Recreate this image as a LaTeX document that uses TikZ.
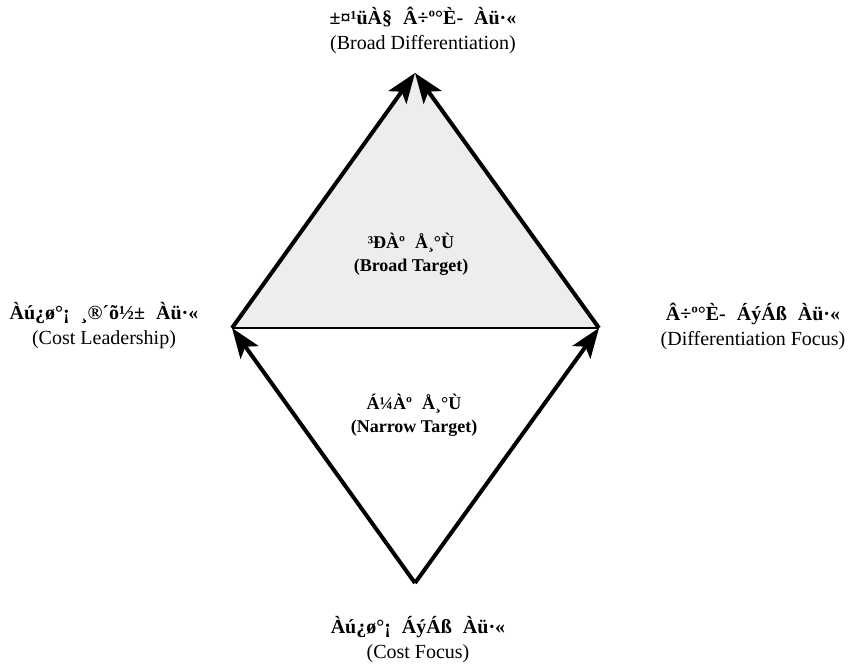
\documentclass[tikz,border=0pt]{standalone}
\usepackage{fontspec}
\setmainfont{Liberation Serif}
\usetikzlibrary{arrows.meta}
\tikzset{
  arr/.style={line width=4pt, -{Stealth[length=30pt,width=22pt,inset=7pt]}},
  outer/.style={align=center, font=\fontsize{20}{25}\selectfont, inner sep=0pt},
  inner/.style={align=center, font=\fontsize{18}{23}\selectfont\bfseries, inner sep=0pt}
}
\newcommand{\wsp}{\hspace{0.55em}}
\begin{document}
\begin{tikzpicture}[x=1pt,y=-1pt]
\useasboundingbox (0,0) rectangle (848,665);
\coordinate (L) at (232,328);
\coordinate (T) at (415,73);
\coordinate (R) at (599,328);
\coordinate (B) at (415,583);
\fill[fill=black!7] (L) -- (T) -- (R) -- cycle;
\draw[line width=1.6pt] (L) -- (R);
\draw[arr] (L) -- (T);
\draw[arr] (R) -- (T);
\draw[arr] (B) -- (L);
\draw[arr] (B) -- (R);
\node[outer] (top) at (423,30) {\textbf{±¤¹üÀ§\wsp Â÷º°È-\wsp Àü·«}\\(Broad Differentiation)};
\node[outer] (left) at (104,326) {\textbf{Àú¿ø°¡\wsp ¸®´õ½±\wsp Àü·«}\\(Cost Leadership)};
\node[outer] (right) at (753,326) {\textbf{Â÷º°È-\wsp ÁýÁß\wsp Àü·«}\\(Differentiation Focus)};
\node[outer] (bot) at (418,640) {\textbf{Àú¿ø°¡\wsp ÁýÁß\wsp Àü·«}\\(Cost Focus)};
\node[inner] (bt) at (411,254) {³ÐÀº\wsp Å¸°Ù\\(Broad Target)};
\node[inner] (nt) at (414,415) {Á¼Àº\wsp Å¸°Ù\\(Narrow Target)};
\end{tikzpicture}
\end{document}
